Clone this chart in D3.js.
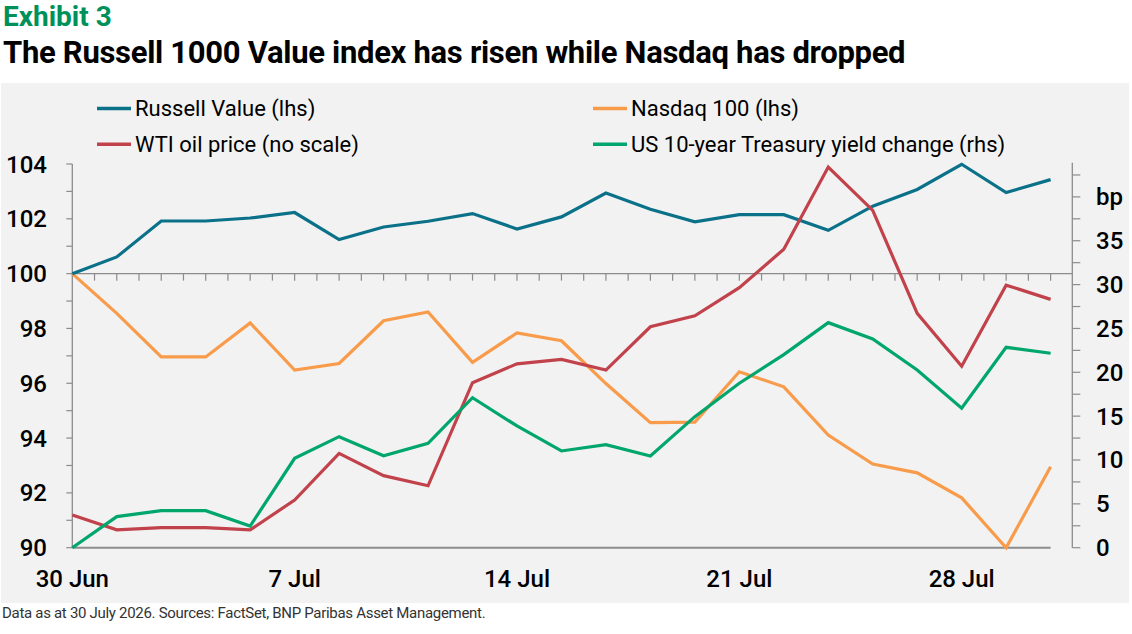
<!DOCTYPE html>
<html>
<head>
<meta charset="utf-8">
<script src="https://cdn.jsdelivr.net/npm/d3@7"></script>
<style>
  body { margin: 0; background: #fff; }
  svg { display: block; }
</style>
</head>
<body>
<script>
// business days, 30 Jun to 30 Jul
var dates = ["30 Jun","1 Jul","2 Jul","3 Jul","6 Jul","7 Jul","8 Jul","9 Jul","10 Jul",
  "13 Jul","14 Jul","15 Jul","16 Jul","17 Jul","20 Jul","21 Jul","22 Jul","23 Jul",
  "24 Jul","27 Jul","28 Jul","29 Jul","30 Jul"];
var dateLabels = ["30 Jun","7 Jul","14 Jul","21 Jul","28 Jul"];

var russell = [100, 100.61, 101.92, 101.92, 102.03, 102.23, 101.24, 101.7, 101.91, 102.19,
  101.63, 102.07, 102.94, 102.35, 101.89, 102.15, 102.15, 101.58, 102.46, 103.07, 103.99, 102.96, 103.43];
var nasdaq = [100, 98.55, 96.96, 96.96, 98.2, 96.48, 96.72, 98.28, 98.6, 96.76,
  97.84, 97.55, 95.99, 94.56, 94.58, 96.42, 95.87, 94.11, 93.05, 92.73, 91.82, 90.0, 92.95];
// oil has no axis of its own, values given on the lhs index scale
var wti = [91.19, 90.65, 90.73, 90.73, 90.65, 91.74, 93.44, 92.63, 92.26, 96.02,
  96.71, 96.87, 96.48, 98.06, 98.46, 99.49, 100.89, 103.89, 102.31, 98.55, 96.62, 99.58, 99.06];
var ust10 = [0, 3.54, 4.22, 4.22, 2.47, 10.19, 12.66, 10.49, 11.9, 17.1,
  13.88, 11.03, 11.74, 10.46, 14.94, 18.75, 22.01, 25.66, 23.8, 20.26, 15.9, 22.85, 22.17];

var leftTicks = [90, 92, 94, 96, 98, 100, 102, 104];
var rightTicks = [0, 5, 10, 15, 20, 25, 30, 35];

var W = 1132, H = 634;
var svg = d3.select("body").append("svg")
    .attr("width", W)
    .attr("height", H);

var font = "Roboto, 'Noto Sans', sans-serif";

// titles
svg.append("text")
    .attr("x", 3).attr("y", 26)
    .attr("fill", "#00915a")
    .style("font", "bold 28px " + font)
    .text("Exhibit 3");
svg.append("text")
    .attr("x", 3).attr("y", 63)
    .attr("fill", "#000")
    .style("font", "bold 31px " + font)
    .style("letter-spacing", "-0.3px")
    .text("The Russell 1000 Value index has risen while Nasdaq has dropped");

// grey panel
svg.append("rect")
    .attr("x", 1).attr("y", 83)
    .attr("width", 1128).attr("height", 520)
    .attr("fill", "#f2f2f2");

svg.append("text")
    .attr("x", 2).attr("y", 618)
    .attr("fill", "#333")
    .style("font", "15px " + font)
    .style("letter-spacing", "-0.3px")
    .text("Data as at 30 July 2026. Sources: FactSet, BNP Paribas Asset Management.");

// scales
var x = d3.scalePoint().domain(dates).range([72.3, 1050.6]);
var y = d3.scaleLinear().domain([90, 104]).range([547.7, 164]);
var y2 = d3.scaleLinear().domain([0, 43.75]).range([547.7, 164]);
var step = x.step();

var axisCol = "#8c8c8c";
var g = svg.append("g");

// lhs axis
g.append("line")
    .attr("x1", x(dates[0])).attr("x2", x(dates[0]))
    .attr("y1", y(104)).attr("y2", y(90))
    .attr("stroke", axisCol).attr("stroke-width", 1.3);
g.selectAll(".ltick").data(d3.range(90, 105, 1)).enter().append("line")
    .attr("x1", x(dates[0]) - 6).attr("x2", x(dates[0]))
    .attr("y1", function(d) { return y(d); })
    .attr("y2", function(d) { return y(d); })
    .attr("stroke", axisCol).attr("stroke-width", 1.2);
g.selectAll(".llab").data(leftTicks).enter().append("text")
    .attr("x", 47)
    .attr("y", function(d) { return y(d) + 8.5; })
    .attr("text-anchor", "end")
    .style("font", "500 24px " + font)
    .attr("fill", "#000")
    .text(function(d) { return d; });

// rhs axis
var xr = 1072.3;
g.append("line")
    .attr("x1", xr).attr("x2", xr)
    .attr("y1", 162.7).attr("y2", y2(0))
    .attr("stroke", axisCol).attr("stroke-width", 1.3);
g.selectAll(".rtick").data(d3.range(0, 43, 2.5)).enter().append("line")
    .attr("x1", xr).attr("x2", xr + 8)
    .attr("y1", function(d) { return y2(d); })
    .attr("y2", function(d) { return y2(d); })
    .attr("stroke", axisCol).attr("stroke-width", 1.2);
g.selectAll(".rlab").data(rightTicks).enter().append("text")
    .attr("x", 1096)
    .attr("y", function(d) { return y2(d) + 8.5; })
    .style("font", "500 24px " + font)
    .attr("fill", "#000")
    .text(function(d) { return d; });
g.append("text")
    .attr("x", 1096).attr("y", y2(40) + 8.5)
    .style("font", "500 24px " + font)
    .attr("fill", "#000")
    .text("bp");

// category axis crossing at 100, plus base line at 90
g.append("line")
    .attr("x1", x(dates[0])).attr("x2", xr)
    .attr("y1", y(100)).attr("y2", y(100))
    .attr("stroke", axisCol).attr("stroke-width", 1.3);
g.append("line")
    .attr("x1", x(dates[0])).attr("x2", x(dates[dates.length - 1]))
    .attr("y1", y(90)).attr("y2", y(90))
    .attr("stroke", axisCol).attr("stroke-width", 2);
var halfTicks = d3.range(1, dates.length * 2 - 1).map(function(k) { return x(dates[0]) + k * step / 2; });
g.selectAll(".xtick").data(halfTicks).enter().append("line")
    .attr("x1", function(d) { return d; })
    .attr("x2", function(d) { return d; })
    .attr("y1", y(100)).attr("y2", y(100) + 7)
    .attr("stroke", axisCol).attr("stroke-width", 1.2);
g.selectAll(".xlab").data(dateLabels).enter().append("text")
    .attr("x", function(d) { return x(d); })
    .attr("y", 587)
    .attr("text-anchor", "middle")
    .style("font", "500 24px " + font)
    .attr("fill", "#000")
    .text(function(d) { return d; });

// series
var series = [
  { name: "Russell Value (lhs)", values: russell, scale: y, color: "#0b7189" },
  { name: "Nasdaq 100 (lhs)", values: nasdaq, scale: y, color: "#f89b4a" },
  { name: "WTI oil price (no scale)", values: wti, scale: y, color: "#c1424b" },
  { name: "US 10-year Treasury yield change (rhs)", values: ust10, scale: y2, color: "#00a66c" }
];
var drawOrder = [1, 0, 2, 3];
drawOrder.forEach(function(i) {
  var s = series[i];
  var line = d3.line()
      .x(function(d, j) { return x(dates[j]); })
      .y(function(d) { return s.scale(d); });
  g.append("path")
      .datum(s.values)
      .attr("d", line)
      .attr("fill", "none")
      .attr("stroke", s.color)
      .attr("stroke-width", 3.2)
      .attr("stroke-linejoin", "miter");
});

// legend
var legPos = [[97, 108.5], [593, 108.5], [97, 144.3], [593, 144.3]];
series.forEach(function(s, i) {
  var p = legPos[i];
  var lg = svg.append("g").attr("transform", "translate(" + p[0] + "," + p[1] + ")");
  lg.append("line")
      .attr("x1", 0).attr("x2", 34)
      .attr("stroke", s.color).attr("stroke-width", 3.5);
  lg.append("text")
      .attr("x", 38).attr("y", 7.5)
      .style("font", "22px " + font)
      .attr("fill", "#000")
      .text(s.name);
});
</script>
</body>
</html>
